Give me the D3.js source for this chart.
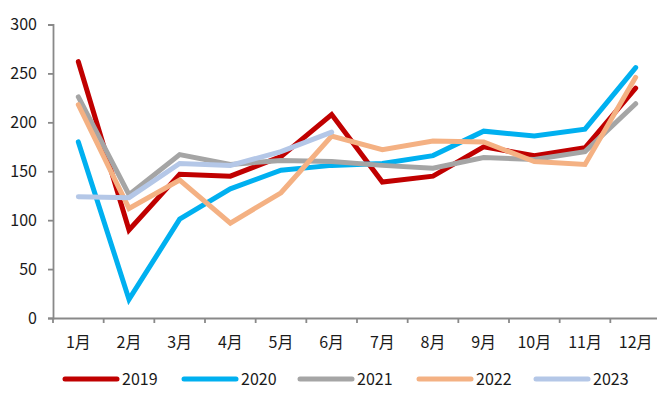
<!DOCTYPE html>
<html>
<head>
<meta charset="utf-8">
<script src="https://cdn.jsdelivr.net/npm/d3@7"></script>
<style>
  body { margin: 0; background: #fff; }
  text { font-family: "Noto Sans CJK SC", "Noto Sans", sans-serif; fill: #1a1a1a; }
</style>
</head>
<body>
<svg width="657" height="407"></svg>
<script>
const months = ['1月', '2月', '3月', '4月', '5月', '6月', '7月', '8月', '9月', '10月', '11月', '12月']
const yTicks = [0, 50, 100, 150, 200, 250, 300]

const v2019 = [262, 90, 147, 145, 165, 208, 139, 145, 175, 166, 174, 235]
const v2020 = [180, 19, 101, 132, 151, 156, 158, 166, 191, 186, 193, 256]
const v2021 = [226, 126, 167, 157, 161, 160, 156, 153, 164, 162, 170, 219]
const v2022 = [218, 112, 141, 97, 128, 186, 172, 181, 180, 160, 157, 246]
const v2023 = [124, 123, 158, 156, 170, 190]

const seriesNames = ['2019', '2020', '2021', '2022', '2023']
const seriesValues = [v2019, v2020, v2021, v2022, v2023]
const colors = ['#C00000', '#00B0F0', '#A5A5A5', '#F4B183', '#B4C7E7']

let svg = d3.select('svg')

const x = d3.scaleBand().domain(months).range([53, 661])
const y = d3.scaleLinear().domain([0, 300]).range([318, 24.5])

// axes
const yAxis = d3.axisLeft(y).tickValues(yTicks).tickSize(5).tickPadding(11)
const gy = svg.append('g').attr('transform', 'translate(53,0)').call(yAxis)
gy.selectAll('text').style('font-size', '16px')

const xAxis = d3.axisBottom(x).tickSize(0).tickPadding(19)
const gx = svg.append('g').attr('transform', 'translate(0,318)').call(xAxis)
gx.selectAll('text').style('font-size', '16px')

// band boundary ticks on x axis
gx.selectAll('line.bound')
  .data(d3.range(months.length + 1))
  .enter()
  .append('line')
  .attr('class', 'bound')
  .attr('x1', i => x(months[0]) + i * x.step())
  .attr('x2', i => x(months[0]) + i * x.step())
  .attr('y1', 0)
  .attr('y2', 5)

svg.selectAll('.domain, .tick line, line.bound')
  .attr('stroke', '#898989')
  .attr('stroke-width', 1.8)

// lines
const line = d3.line()
  .x((d, i) => x(months[i]) + x.bandwidth() / 2)
  .y(d => y(d))

svg.append('g')
  .selectAll('path')
  .data(seriesValues)
  .enter()
  .append('path')
  .attr('d', line)
  .attr('fill', 'none')
  .attr('stroke', (d, i) => colors[i])
  .attr('stroke-width', 5)
  .attr('stroke-linecap', 'round')
  .attr('stroke-linejoin', 'miter')

// legend
const legendX = [63, 182, 298, 417, 534]
let legend = svg.append('g').attr('id', 'legend')
const item = legend.selectAll('g')
  .data(seriesNames)
  .enter()
  .append('g')
  .attr('transform', (d, i) => `translate(${legendX[i]},379)`)

item.append('line')
  .attr('x1', 2).attr('x2', 54)
  .attr('y1', 0).attr('y2', 0)
  .attr('stroke', (d, i) => colors[i])
  .attr('stroke-width', 5)
  .attr('stroke-linecap', 'round')

item.append('text')
  .attr('x', 59)
  .attr('y', 0)
  .attr('dy', '0.35em')
  .style('font-size', '16px')
  .text(d => d)
</script>
</body>
</html>
